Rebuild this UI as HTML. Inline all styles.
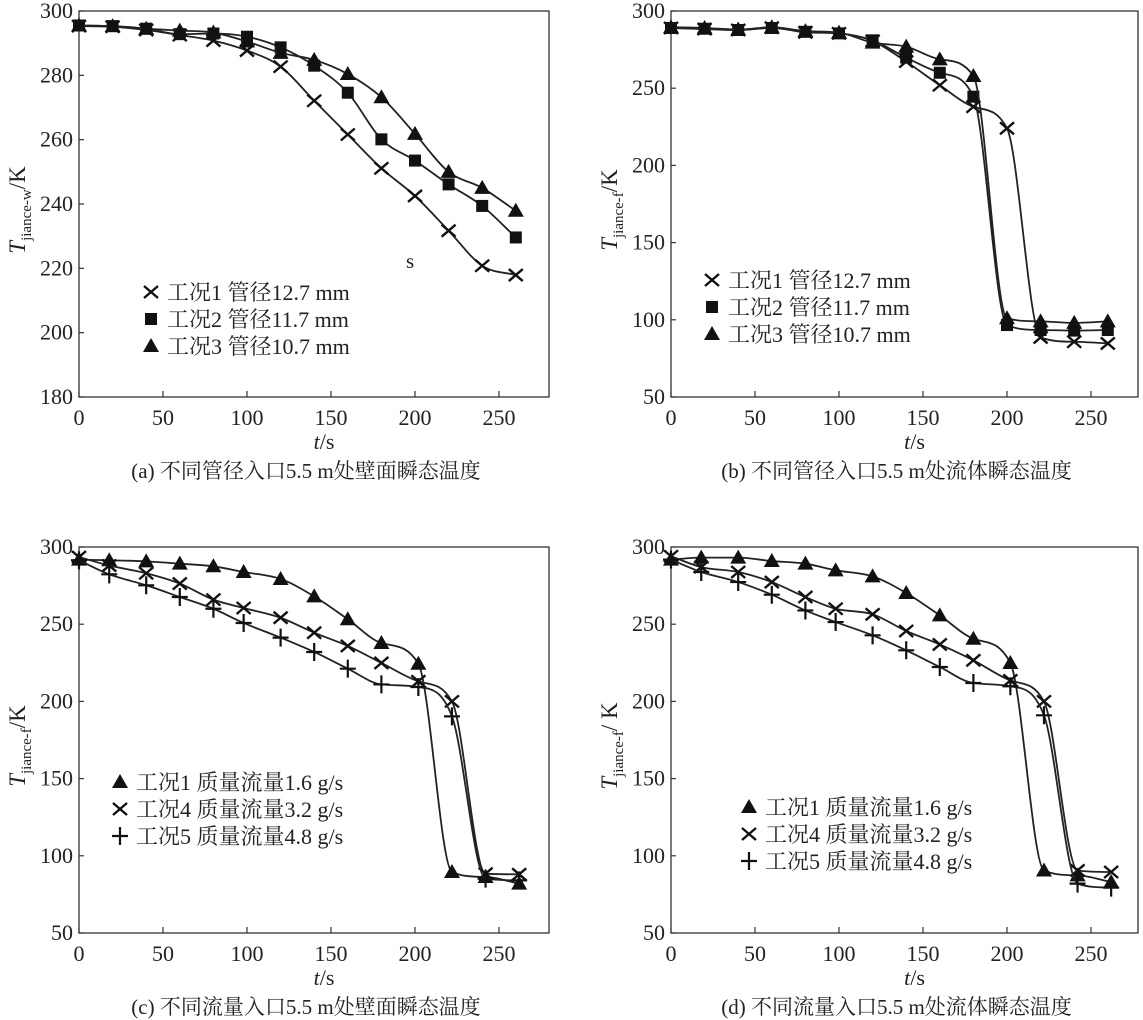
<!DOCTYPE html>
<html><head><meta charset="utf-8">
<style>
html,body{margin:0;padding:0;background:#fff;}
svg{display:block;font-family:"Liberation Serif","Noto Serif CJK SC",serif;}
</style></head>
<body>
<svg id="chart" width="1143" height="1020" viewBox="0 0 1143 1020" xmlns="http://www.w3.org/2000/svg"></svg>
<script>
const tAxis = [0,20,40,60,80,100,120,140,160,180,200,220,240,260];
const tAxisC = [0,18,40,60,80,98,120,140,160,180,202,222,242,262];
const xTicks = [0,50,100,150,200,250];
const yTicksA = [180,200,220,240,260,280,300];
const yTicksB = [50,100,150,200,250,300];

const aCase1 = [295.3,295.1,294.1,292.5,290.8,287.7,282.7,272.1,261.6,251.1,242.5,231.7,220.8,217.9];
const aCase2 = [295.5,295.3,294.5,292.8,293,292,288.7,283,274.6,260.1,253.5,246.1,239.4,229.6];
const aCase3 = [295.5,295.3,294.5,293.9,293.3,290.5,287,284.8,280.4,273.2,261.8,250,245,237.9];

const bCase1 = [289,288.3,287.7,289.2,286.2,285.5,280.6,267.2,251.9,238,224,88.6,85.8,84.7];
const bCase2 = [289,288.5,287.7,289,286.5,285.5,281,269.8,260,244.5,96.6,93.4,93,93.4];
const bCase3 = [289.5,289,288,289.5,287,286,279.5,276.9,268.7,257.9,101,99,98,99];

const cCase1 = [291.8,291.4,290.7,289.2,287.5,283.8,279.3,268,253.2,237.8,224.4,89.5,86.3,82];
const cCase4 = [293.5,288,283,276.3,265.9,260.5,254.2,244.5,235.9,224.9,213,200,88.4,88];
const cCase5 = [291.4,282.3,275.2,267.6,260,250.8,241.3,232,221.2,211,209.3,190.3,85.2,84.1];

const dCase1 = [291.8,293.1,293.1,290.9,289.2,284.9,281,270.2,255.7,240.6,224.9,90.5,87.3,83];
const dCase4 = [294,287,283.8,277.3,267.6,260,256.4,245.6,236.9,226.6,213.6,200,90.5,89.5];
const dCase5 = [291.8,283.8,277.3,269.1,258.9,251.4,242.8,233.1,222.3,211.9,209.8,191,82,79.4];

const NS='http://www.w3.org/2000/svg';
const svg=document.getElementById('chart');
function mk(tag,attrs,parent){const e=document.createElementNS(NS,tag);for(const k in attrs)e.setAttribute(k,attrs[k]);(parent||svg).appendChild(e);return e;}

function marker(g,type,x,y){
  let m;
  if(type==='tri'){m=mk('path',{d:`M${x},${y-8}L${x+8},${y+6}L${x-8},${y+6}Z`,fill:'#111'},g);}
  else if(type==='sq'){m=mk('rect',{x:x-6,y:y-6,width:12,height:12,fill:'#111'},g);}
  else if(type==='x'){m=mk('path',{d:`M${x-7},${y-6}L${x+7},${y+6}M${x+7},${y-6}L${x-7},${y+6}`,stroke:'#111','stroke-width':2.4,fill:'none'},g);}
  else {m=mk('path',{d:`M${x-8},${y}L${x+8},${y}M${x},${y-9}L${x},${y+9}`,stroke:'#111','stroke-width':2.2,fill:'none'},g);}
  return m;
}
// monotone cubic (Fritsch-Carlson) to avoid overshoot
function smoothPath(pts){
  const n=pts.length,d=[],m=[];
  for(let i=0;i<n-1;i++)d.push((pts[i+1][1]-pts[i][1])/(pts[i+1][0]-pts[i][0]));
  m[0]=d[0];m[n-1]=d[n-2];
  for(let i=1;i<n-1;i++){m[i]=(d[i-1]*d[i]<=0)?0:(d[i-1]+d[i])/2;}
  for(let i=0;i<n-1;i++){
    if(d[i]===0){m[i]=0;m[i+1]=0;continue;}
    const a=m[i]/d[i],b=m[i+1]/d[i],s=a*a+b*b;
    if(s>9){const t=3/Math.sqrt(s);m[i]=t*a*d[i];m[i+1]=t*b*d[i];}
  }
  let p=`M${pts[0][0]},${pts[0][1]}`;
  for(let i=0;i<n-1;i++){
    const h=(pts[i+1][0]-pts[i][0])/3;
    p+=`C${pts[i][0]+h},${pts[i][1]+m[i]*h} ${pts[i+1][0]-h},${pts[i+1][1]-m[i+1]*h} ${pts[i+1][0]},${pts[i+1][1]}`;
  }
  return p;
}

function panel(cfg){
  const g=mk('g',{});
  
  
  const {L,R,T,B,ymin,ymax}=cfg;
  const xs=v=>L+v*1.68;
  const ys=v=>B-(v-ymin)/(ymax-ymin)*(B-T);
  const frame=mk('rect',{x:L,y:T,width:R-L,height:B-T,fill:'none',stroke:'#333','stroke-width':1.3},g);
  
  
  xTicks.forEach(v=>{
    mk('line',{x1:xs(v),x2:xs(v),y1:B,y2:B-6,stroke:'#333','stroke-width':1.2},g);
    const t=mk('text',{x:xs(v),y:B+28,'font-size':22,'text-anchor':'middle',fill:'#222'},g);
    t.textContent=v;
    
    
  });
  cfg.yTicks.forEach(v=>{
    mk('line',{x1:L,x2:L+5,y1:ys(v),y2:ys(v),stroke:'#333','stroke-width':1.2},g);
    const t=mk('text',{x:L-6,y:ys(v)+7,'font-size':22,'text-anchor':'end',fill:'#222'},g);
    t.textContent=v;
    
    
  });
  const xt=mk('text',{x:(L+R)/2+10,y:B+52,'font-size':22,'text-anchor':'middle',fill:'#222'},g);
  xt.innerHTML='<tspan font-style="italic">t</tspan>/s';
  
  
  const yt=mk('text',{transform:`translate(${L-54},${(T+B)/2+6}) rotate(-90)`,'font-size':23,'text-anchor':'middle',fill:'#222'},g);
  yt.innerHTML=`<tspan font-style="italic">T</tspan><tspan font-size="15" dy="6">${cfg.sub}</tspan><tspan dy="-6">${cfg.unit}</tspan>`;
  
  
  const cap=mk('text',{x:(L+R)/2-8,y:B+81,'font-size':21,'text-anchor':'middle',fill:'#222'},g);
  cap.textContent=cfg.caption;
  
  
  cfg.series.forEach((s,si)=>{
    const pts=s.vals.map((v,i)=>[xs(s.t[i]),ys(v)]);
    const p=mk('path',{d:smoothPath(pts),fill:'none',stroke:'#222','stroke-width':1.8},g);
    
    
    pts.forEach(pt=>{
      const m=marker(g,s.type,pt[0],pt[1]);
      
      
    });
    const ly=cfg.legY+si*cfg.legDy;
    const lm=marker(g,s.type,cfg.legX,ly-7);
    
    
    const lt=mk('text',{x:cfg.legX+16,y:ly+1,'font-size':22,fill:'#222'},g);
    lt.textContent=s.label;
    
    
  });
  return {g,xs,ys};
}

const pa=panel({name:'panel-a',L:79,R:549,T:11,B:397,ymin:180,ymax:300,yTicks:yTicksA,sub:'jiance-w',unit:'/K',
  caption:'(a) 不同管径入口5.5 m处壁面瞬态温度',legX:151,legY:299,legDy:27,
  series:[{id:'case1',type:'x',t:tAxis,vals:aCase1,label:'工况1 管径12.7 mm'},
          {id:'case2',type:'sq',t:tAxis,vals:aCase2,label:'工况2 管径11.7 mm'},
          {id:'case3',type:'tri',t:tAxis,vals:aCase3,label:'工况3 管径10.7 mm'}]});
const sLbl=mk('text',{x:406,y:268,'font-size':21,fill:'#222'},pa.g);
sLbl.textContent='s';



panel({name:'panel-b',L:671,R:1138,T:11,B:397,ymin:50,ymax:300,yTicks:yTicksB,sub:'jiance-f',unit:'/K',
  caption:'(b) 不同管径入口5.5 m处流体瞬态温度',legX:712,legY:287,legDy:27,
  series:[{id:'case1',type:'x',t:tAxis,vals:bCase1,label:'工况1 管径12.7 mm'},
          {id:'case2',type:'sq',t:tAxis,vals:bCase2,label:'工况2 管径11.7 mm'},
          {id:'case3',type:'tri',t:tAxis,vals:bCase3,label:'工况3 管径10.7 mm'}]});

panel({name:'panel-c',L:79,R:549,T:547,B:933,ymin:50,ymax:300,yTicks:yTicksB,sub:'jiance-f',unit:'/K',
  caption:'(c) 不同流量入口5.5 m处壁面瞬态温度',legX:120,legY:789,legDy:27,
  series:[{id:'case1',type:'tri',t:tAxisC,vals:cCase1,label:'工况1 质量流量1.6 g/s'},
          {id:'case4',type:'x',t:tAxisC,vals:cCase4,label:'工况4 质量流量3.2 g/s'},
          {id:'case5',type:'plus',t:tAxisC,vals:cCase5,label:'工况5 质量流量4.8 g/s'}]});

panel({name:'panel-d',L:671,R:1138,T:547,B:933,ymin:50,ymax:300,yTicks:yTicksB,sub:'jiance-f',unit:'/ K',
  caption:'(d) 不同流量入口5.5 m处流体瞬态温度',legX:749,legY:814,legDy:27,
  series:[{id:'case1',type:'tri',t:tAxisC,vals:dCase1,label:'工况1 质量流量1.6  g/s'},
          {id:'case4',type:'x',t:tAxisC,vals:dCase4,label:'工况4 质量流量3.2 g/s'},
          {id:'case5',type:'plus',t:tAxisC,vals:dCase5,label:'工况5 质量流量4.8 g/s'}]});
</script>
</body></html>
